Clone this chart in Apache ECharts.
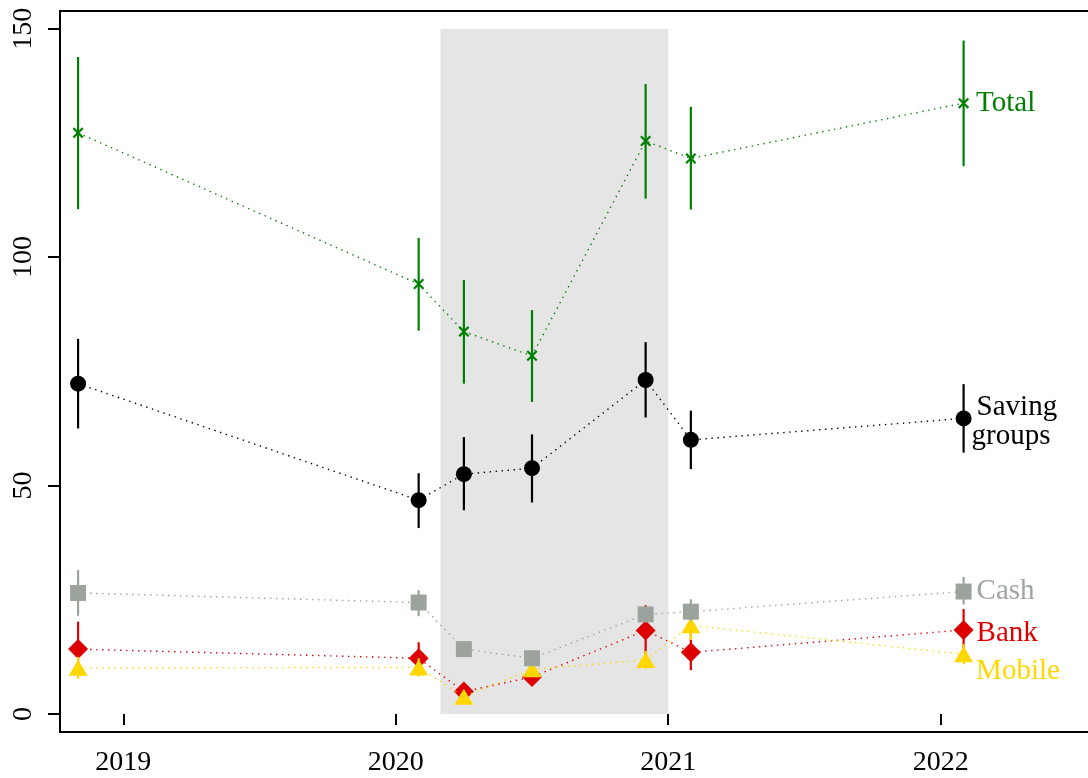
<!DOCTYPE html>
<html>
<head>
<meta charset="utf-8">
<script src="https://cdn.jsdelivr.net/npm/echarts@6/dist/echarts.min.js"></script>
<style>
html,body{margin:0;padding:0;background:#fff;}
#chart{width:1088px;height:778px;}
</style>
</head>
<body>
<div id="chart"></div>
<script>
// ---- data (decimal years) ----
const dates = [2018.834, 2020.084, 2020.25, 2020.5, 2020.917, 2021.083, 2022.084];
const xTicks = [2019, 2020, 2021, 2022];
const yTicks = [0, 50, 100, 150];
const bandRange = [2020.164, 2021.0];

const totalMean  = [127.2, 94.1, 83.7, 78.4, 125.4, 121.6, 133.7];
const totalLow   = [110.5, 83.9, 72.3, 68.3, 112.8, 110.4, 119.9];
const totalHigh  = [143.8, 104.2, 95.0, 88.4, 137.9, 132.9, 147.4];

const savingMean = [72.3, 46.8, 52.5, 53.8, 73.1, 60.0, 64.7];
const savingLow  = [62.5, 40.7, 44.6, 46.3, 64.9, 53.6, 57.2];
const savingHigh = [82.1, 52.7, 60.6, 61.2, 81.4, 66.4, 72.2];

const cashMean   = [26.5, 24.4, 14.2, 12.2, 21.8, 22.4, 26.8];
const cashLow    = [21.5, 21.4, 12.6, 10.6, 20.2, 20.4, 24.0];
const cashHigh   = [31.5, 27.1, 15.8, 13.8, 23.4, 25.1, 30.0];

const bankMean   = [14.2, 12.2, 4.9, 8.1, 18.3, 13.5, 18.4];
const bankLow    = [9.5, 8.8, 3.3, 6.2, 13.0, 9.6, 14.0];
const bankHigh   = [20.2, 15.7, 6.5, 10.0, 23.8, 18.5, 23.0];

const mobileMean = [10.1, 10.2, 3.8, 9.8, 11.8, 19.4, 13.1];
const mobileLow  = [7.7, 8.2, 2.6, 8.5, 9.8, 16.2, 10.9];
const mobileHigh = [12.5, 12.2, 5.0, 11.1, 13.8, 22.0, 15.3];

const FONT = 'Liberation Serif';
const pxPerYear = 272.47;
const gridWidth = 1060;
const xMin = 2019 - (123.3 - 60) / pxPerYear;
const xMax = xMin + gridWidth / pxPerYear;

function errSeries(name, low, high, color, z) {
  return {
    type: 'custom',
    name: name + ' CI',
    z: z,
    silent: true,
    clip: false,
    data: dates.map((d, i) => [d, low[i], high[i]]),
    encode: { x: 0, y: [1, 2] },
    renderItem: function (params, api) {
      const p1 = api.coord([api.value(0), api.value(1)]);
      const p2 = api.coord([api.value(0), api.value(2)]);
      return {
        type: 'line',
        shape: { x1: p1[0], y1: p1[1], x2: p2[0], y2: p2[1] },
        style: { stroke: color, lineWidth: 2.2 }
      };
    }
  };
}

function lineSeries(name, mean, color, symbol, size, z, label) {
  return {
    type: 'line',
    name: name,
    z: z,
    silent: true,
    symbol: symbol,
    symbolSize: size,
    showAllSymbol: true,
    animation: false,
    lineStyle: { color: color, width: 1.4, type: [1.4, 4.6] },
    itemStyle: { color: color, opacity: 1 },
    data: dates.map((d, i) => {
      const item = { value: [d, mean[i]] };
      if (i === dates.length - 1 && label) item.label = label;
      return item;
    })
  };
}

const crossPath = 'path://M0,1.4 L1.4,0 L5,3.6 L8.6,0 L10,1.4 L6.4,5 L10,8.6 L8.6,10 L5,6.4 L1.4,10 L0,8.6 L3.6,5 Z';

const labelBase = { show: true, position: 'right', fontFamily: FONT, fontSize: 29 };

const series = [
  {
    type: 'line', name: 'band', data: [], z: 0, silent: true,
    markArea: {
      silent: true,
      itemStyle: { color: '#e5e5e5' },
      data: [[{ coord: [bandRange[0], yTicks[0]] }, { coord: [bandRange[1], yTicks[yTicks.length - 1]] }]]
    }
  },
  errSeries('Total', totalLow, totalHigh, '#008000', 3),
  lineSeries('Total', totalMean, '#008000', crossPath, 11, 4,
    Object.assign({}, labelBase, { formatter: 'Total', color: '#008000', distance: 7 })),
  errSeries('Saving groups', savingLow, savingHigh, '#000000', 5),
  lineSeries('Saving groups', savingMean, '#000000', 'circle', 16, 6,
    Object.assign({}, labelBase, {
      formatter: '{a|Saving}\n{b|groups}', color: '#000', distance: 0, offset: [0, 3],
      rich: {
        a: { fontFamily: FONT, fontSize: 29, lineHeight: 29, color: '#000', padding: [0, 0, 0, 5] },
        b: { fontFamily: FONT, fontSize: 29, lineHeight: 29, color: '#000', padding: [0, 0, 0, 0] }
      }
    })),
  errSeries('Bank', bankLow, bankHigh, '#dd0000', 7),
  lineSeries('Bank', bankMean, '#dd0000', 'diamond', [20, 20], 8,
    Object.assign({}, labelBase, { formatter: 'Bank', color: '#dd0000', distance: 3, offset: [0, 3] })),
  errSeries('Mobile', mobileLow, mobileHigh, '#ffd700', 9),
  lineSeries('Mobile', mobileMean, '#ffd700', 'triangle', [19, 16], 10,
    Object.assign({}, labelBase, { formatter: 'Mobile', color: '#ffd700', distance: 3, offset: [0, 17] })),
  errSeries('Cash', cashLow, cashHigh, '#9ba39c', 11),
  lineSeries('Cash', cashMean, '#9ba39c', 'rect', 16, 12,
    Object.assign({}, labelBase, { formatter: 'Cash', color: '#9ea69f', distance: 5 }))
];

const chart = echarts.init(document.getElementById('chart'), null, { renderer: 'canvas' });
chart.setOption({
  animation: false,
  backgroundColor: '#ffffff',
  grid: {
    left: 60, top: 11, width: gridWidth, bottom: 46,
    outerBoundsMode: 'none', containLabel: false,
    show: true, borderColor: '#000', borderWidth: 2, backgroundColor: 'transparent'
  },
  xAxis: {
    type: 'value', min: xMin, max: xMax,
    axisLine: { show: false },
    splitLine: { show: false },
    axisTick: { show: true, customValues: xTicks, length: 11, lineStyle: { color: '#000', width: 2 } },
    axisLabel: {
      customValues: xTicks, margin: 17, color: '#000', fontFamily: FONT, fontSize: 28,
      formatter: v => String(v)
    }
  },
  yAxis: {
    type: 'value', min: -3.94, max: 153.87,
    axisLine: { show: false },
    splitLine: { show: false },
    axisTick: { show: true, customValues: yTicks, length: 12, lineStyle: { color: '#000', width: 2 } },
    axisLabel: {
      customValues: yTicks, rotate: 90, margin: 22, color: '#000', fontFamily: FONT, fontSize: 28,
      formatter: v => String(v)
    }
  },
  series: series
});
</script>
</body>
</html>
